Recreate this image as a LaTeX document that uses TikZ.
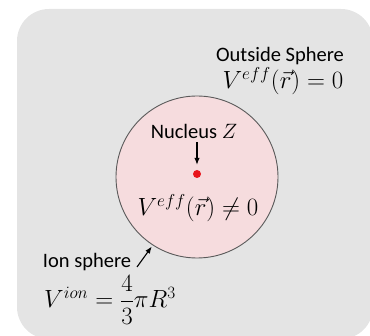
\documentclass[tikz,border=0pt]{standalone}
\usepackage{amsmath}
\usepackage{fontspec}
\setmainfont{Carlito}
\usetikzlibrary{arrows.meta,positioning}
\definecolor{PanelGrey}{HTML}{E4E4E4}
\definecolor{SphereFill}{HTML}{F6DCDE}
\definecolor{SphereLine}{HTML}{5A5A5A}
\definecolor{NucleusRed}{HTML}{E8141B}
\tikzset{
  labeltext/.style={font=\fontsize{20.5}{24}\selectfont,inner sep=0pt,align=center},
  mathtext/.style={font=\fontsize{23}{27}\selectfont,inner sep=0pt},
  pointer/.style={-{Latex[length=7pt,width=5.5pt]},line width=1.1pt,draw=black},
  spherenode/.style={circle,draw=SphereLine,fill=SphereFill,line width=0.9pt,minimum size=162pt,inner sep=0pt},
  nucleusdot/.style={circle,fill=NucleusRed,minimum size=8pt,inner sep=0pt}
}

\begin{document}
\begin{tikzpicture}[x=1pt,y=-1pt]
\useasboundingbox (0,0) rectangle (370,336);
% grey panel, cut off at right and bottom
\begin{scope}
\clip (0,0) rectangle (370,336);
\fill[PanelGrey,rounded corners=32pt] (17,9) rectangle (373,339);
\end{scope}
\node[spherenode] (ionsphere) at (197,177) {};
\node[nucleusdot] (nucleus) at (197,174) {};
\node[labeltext] (outlab) at (280,56) {Outside Sphere};
\node[mathtext] (outpot) at (283,81) {$V^{eff}(\vec{r})=0$};
\node[labeltext] (nuclab) at (194,131) {Nucleus $Z$};
\node[mathtext] (inpot) at (198,208) {$V^{eff}(\vec{r})\neq0$};
\node[labeltext] (ionlab) at (87,262) {Ion sphere};
\node[mathtext] (ionvol) at (110,300) {$V^{ion}=\dfrac{4}{3}\pi R^3$};
\coordinate (iontail) at (137,267);
\draw[pointer] ([yshift=-4pt]nuclab.south -| nucleus) -- ([yshift=5pt]nucleus.north);
\draw[pointer,shorten >=1.5pt] (iontail) -- (ionsphere.237);
\end{tikzpicture}
\end{document}
